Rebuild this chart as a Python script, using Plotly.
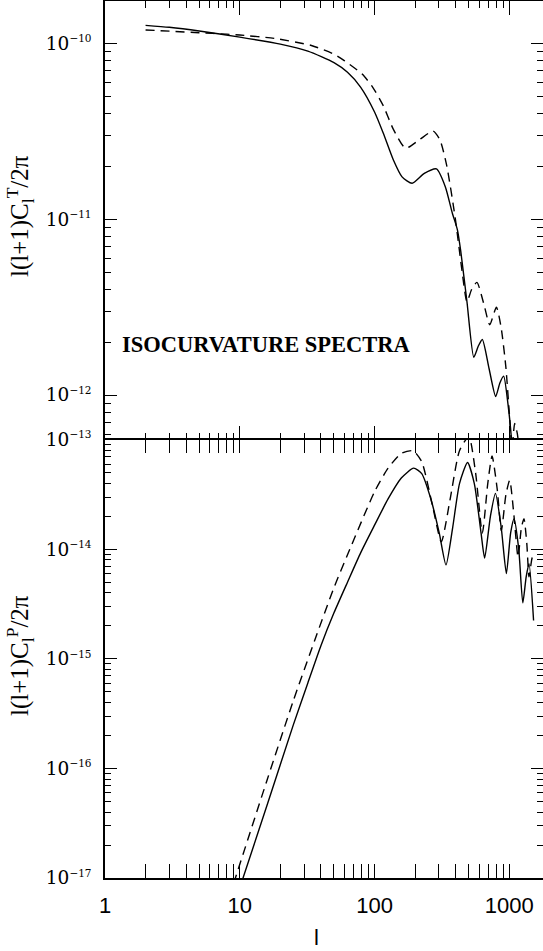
import plotly.graph_objects as go

# ---------------- data ----------------
# Temperature spectrum  l(l+1)C_l^T/2pi
ell_T_solid = [2, 3, 5, 10, 20, 32, 50, 63, 79, 100, 116, 138, 160, 190, 234, 288, 335, 378,
               412, 436, 485, 545, 589, 631, 708, 792, 851, 908, 977, 1035, 1096]
cl_T_solid = [1.265e-10, 1.233e-10, 1.175e-10, 1.084e-10, 9.89e-11, 9.02e-11, 7.76e-11, 6.84e-11,
              5.62e-11, 4.07e-11, 3.09e-11, 2.17e-11, 1.74e-11, 1.60e-11, 1.82e-11, 1.93e-11,
              1.53e-11, 1.08e-11, 8.7e-12, 6.6e-12, 3.39e-12, 1.64e-12, 1.9e-12, 2.07e-12,
              1.41e-12, 9.8e-13, 1.17e-12, 1.28e-12, 8.9e-13, 5.75e-13, 2.8e-13]

ell_T_dash = [2, 3, 5, 8, 10, 18, 34, 50, 60, 81, 97, 116, 138, 170, 214, 272, 306, 344, 398,
              447, 485, 525, 575, 646, 716, 802, 871, 942, 1000, 1047, 1096, 1148, 1230]
cl_T_dash = [1.191e-10, 1.172e-10, 1.148e-10, 1.127e-10, 1.114e-10, 1.067e-10, 9.72e-11, 8.67e-11,
             7.94e-11, 6.68e-11, 5.62e-11, 4.42e-11, 3.24e-11, 2.53e-11, 2.82e-11, 3.17e-11,
             2.82e-11, 2.0e-11, 1.0e-11, 5.0e-12, 3.39e-12, 3.98e-12, 4.37e-12, 3.31e-12,
             2.51e-12, 3.16e-12, 2.4e-12, 1.45e-12, 7.9e-13, 5.0e-13, 6.9e-13, 6.0e-13, 3.5e-13]

# Polarization spectrum  l(l+1)C_l^P/2pi
ell_P_solid = [10, 16, 25, 32, 40, 50, 63, 79, 100, 126, 158, 195, 224, 263, 302, 339, 380, 427,
               490, 550, 617, 656, 724, 789, 871, 951, 1023, 1084, 1175, 1259, 1334, 1400, 1514]
cl_P_solid = [8.13e-18, 4.68e-17, 2.51e-16, 6.03e-16, 1.32e-15, 2.63e-15, 5.01e-15, 9.33e-15,
              1.66e-14, 2.88e-14, 4.47e-14, 5.5e-14, 4.9e-14, 2.82e-14, 1.41e-14, 7.2e-15,
              1.58e-14, 3.98e-14, 6.2e-14, 3.98e-14, 1.41e-14, 8.3e-15, 2.0e-14, 3.24e-14,
              1.58e-14, 6.0e-15, 1.41e-14, 1.9e-14, 1.0e-14, 3.24e-15, 5.6e-15, 7.4e-15, 2.24e-15]

ell_P_dash = [9, 16, 25, 36, 50, 63, 100, 126, 158, 193, 224, 269, 313, 363, 427, 501, 562, 631,
              692, 745, 813, 873, 944, 1007, 1084, 1161, 1230, 1285, 1349, 1400, 1462, 1514]
cl_P_dash = [8.9e-18, 7.94e-17, 4.17e-16, 1.48e-15, 4.47e-15, 8.9e-15, 3.35e-14, 5.5e-14, 7.5e-14,
             7.94e-14, 6.3e-14, 2.51e-14, 1.17e-14, 2.82e-14, 7.94e-14, 1.07e-13, 5.0e-14,
             1.41e-14, 3.98e-14, 7.1e-14, 3.55e-14, 1.48e-14, 3.16e-14, 4.27e-14, 2.0e-14,
             8.5e-15, 1.58e-14, 1.9e-14, 1.12e-14, 5.6e-15, 7.9e-15, 9.5e-15]

x_major = [1, 10, 100, 1000]
x_major_text = ["1", "10", "100", "1000"]
yT_major = [1e-12, 1e-11, 1e-10]
yT_exp = [12, 11, 10]
yP_major = [1e-17, 1e-16, 1e-15, 1e-14, 1e-13]
yP_exp = [17, 16, 15, 14, 13]

label_T = "l(l+1)C<sub>l</sub><sup>T</sup>/2\u03c0"
label_P = "l(l+1)C<sub>l</sub><sup>P</sup>/2\u03c0"
x_label = "l"
panel_text = "ISOCURVATURE SPECTRA"

# ---------------- styling ----------------
BLACK = "black"
LW = 1.5
SUP = "10<sup><span style='font-size:10.5px'>\u2212%d</span></sup>"
yT_text = [SUP % n for n in yT_exp]
yP_text = [SUP % n for n in yP_exp]
x_minor = [m * 10 ** e for e in range(0, 4) for m in range(2, 10)]
yT_minor = [m * 10.0 ** e for e in range(-13, -9) for m in range(2, 10)]
yP_minor = [m * 10.0 ** e for e in range(-18, -12) for m in range(2, 10)]

solid = dict(color=BLACK, width=1.4, shape="spline", smoothing=0.6)
dashed = dict(color=BLACK, width=1.4, shape="spline", smoothing=0.6, dash="9px,6px")

fig = go.Figure()
fig.add_trace(go.Scatter(x=ell_T_solid, y=cl_T_solid, xaxis="x", yaxis="y", mode="lines", line=solid))
fig.add_trace(go.Scatter(x=ell_T_dash, y=cl_T_dash, xaxis="x", yaxis="y", mode="lines", line=dashed))
fig.add_trace(go.Scatter(x=ell_P_solid, y=cl_P_solid, xaxis="x2", yaxis="y2", mode="lines", line=solid))
fig.add_trace(go.Scatter(x=ell_P_dash, y=cl_P_dash, xaxis="x2", yaxis="y2", mode="lines", line=dashed))
# empty traces that register the extra tick-only axes
fig.add_trace(go.Scatter(x=[], y=[], xaxis="x", yaxis="y3", mode="lines"))
fig.add_trace(go.Scatter(x=[], y=[], xaxis="x2", yaxis="y4", mode="lines"))
fig.add_trace(go.Scatter(x=[], y=[], xaxis="x3", yaxis="y", mode="lines"))

XR = [0, 3.25]
YT_R = [-12.253, -9.7595]
YP_R = [-17.0, -12.998]
DOM_T = [0.5, 1]
DOM_P = [0, 0.5]

xfont = dict(family="Liberation Sans, Arial, sans-serif", size=22, color=BLACK)
yfont = dict(family="DejaVu Serif, serif", size=18.5, color=BLACK)

def xaxis_cfg(anchor, labels, side="bottom", line=True, mirror="allticks", overlay=None):
    d = dict(type="log", range=XR, anchor=anchor, side=side, automargin=False,
             showline=line, linecolor=BLACK, linewidth=LW, mirror=mirror,
             ticks="inside", ticklen=14, tickwidth=1.2, tickcolor=BLACK,
             tickmode="array", tickvals=x_major, ticktext=x_major_text,
             showticklabels=labels, showgrid=False, zeroline=False,
             tickfont=xfont, ticklabelstandoff=7,
             minor=dict(tickmode="array", tickvals=x_minor, ticks="inside", ticklen=7,
                        tickwidth=1.1, tickcolor=BLACK, showgrid=False))
    if overlay:
        d["overlaying"] = overlay
    else:
        d["domain"] = [0, 1]
    return d

def yaxis_cfg(rng, dom, anchor, vals, texts, minor_vals, right=False, overlay=None):
    d = dict(type="log", range=rng, anchor=anchor, automargin=False,
             ticks="inside", ticklen=12, tickwidth=1.2, tickcolor=BLACK,
             tickmode="array", tickvals=vals, ticktext=texts,
             showgrid=False, zeroline=False,
             tickfont=yfont, ticklabelstandoff=8,
             minor=dict(tickmode="array", tickvals=minor_vals, ticks="inside", ticklen=6,
                        tickwidth=1.1, tickcolor=BLACK, showgrid=False))
    if right:
        d.update(side="right", overlaying=overlay, showline=False, showticklabels=False)
    else:
        d.update(domain=dom, showline=True, linecolor=BLACK, linewidth=LW, mirror=False,
                 showticklabels=True)
    return d

fig.update_layout(
    template="none",
    width=543, height=951,
    margin=dict(l=105, r=0, t=1, b=73, pad=0),
    paper_bgcolor="white", plot_bgcolor="white",
    showlegend=False,
    # top panel: line + ticks along the top, tick-only overlay along its bottom
    xaxis=xaxis_cfg("y", False, side="top", line=True, mirror=False),
    xaxis3=xaxis_cfg("y", False, side="bottom", line=False, mirror=False, overlay="x"),
    # bottom panel: lines + ticks on both edges (shared divider line drawn once)
    xaxis2=xaxis_cfg("y2", True),
    yaxis=yaxis_cfg(YT_R, DOM_T, "x", yT_major, yT_text, yT_minor),
    yaxis2=yaxis_cfg(YP_R, DOM_P, "x2", yP_major, yP_text, yP_minor),
    yaxis3=yaxis_cfg(YT_R, None, "x", yT_major, yT_text, yT_minor, right=True, overlay="y"),
    yaxis4=yaxis_cfg(YP_R, None, "x2", yP_major, yP_text, yP_minor, right=True, overlay="y2"),
)

serif = dict(family="Liberation Serif, Times New Roman, serif", size=25, color=BLACK)
fig.add_annotation(text=label_T, xref="paper", yref="paper", x=-0.194, y=0.7548,
                   xanchor="center", yanchor="middle", textangle=-90, showarrow=False, font=serif)
fig.add_annotation(text=label_P, xref="paper", yref="paper", x=-0.194, y=0.2531,
                   xanchor="center", yanchor="middle", textangle=-90, showarrow=False, font=serif)
fig.add_annotation(text=x_label, xref="paper", yref="paper", x=0.482, y=-0.0684,
                   xanchor="center", yanchor="middle", showarrow=False, font=xfont)
fig.add_annotation(text="<b>" + panel_text + "</b>", xref="paper", yref="paper",
                   x=0.034, y=0.6078, xanchor="left", yanchor="middle", showarrow=False,
                   font=dict(family="Liberation Serif, Times New Roman, serif", size=22.5, color=BLACK))

fig.write_html("out.html", config={"displayModeBar": False},
               post_script="document.body.style.margin='0';document.body.style.padding='0';"
                           "document.body.style.overflow='hidden';")
